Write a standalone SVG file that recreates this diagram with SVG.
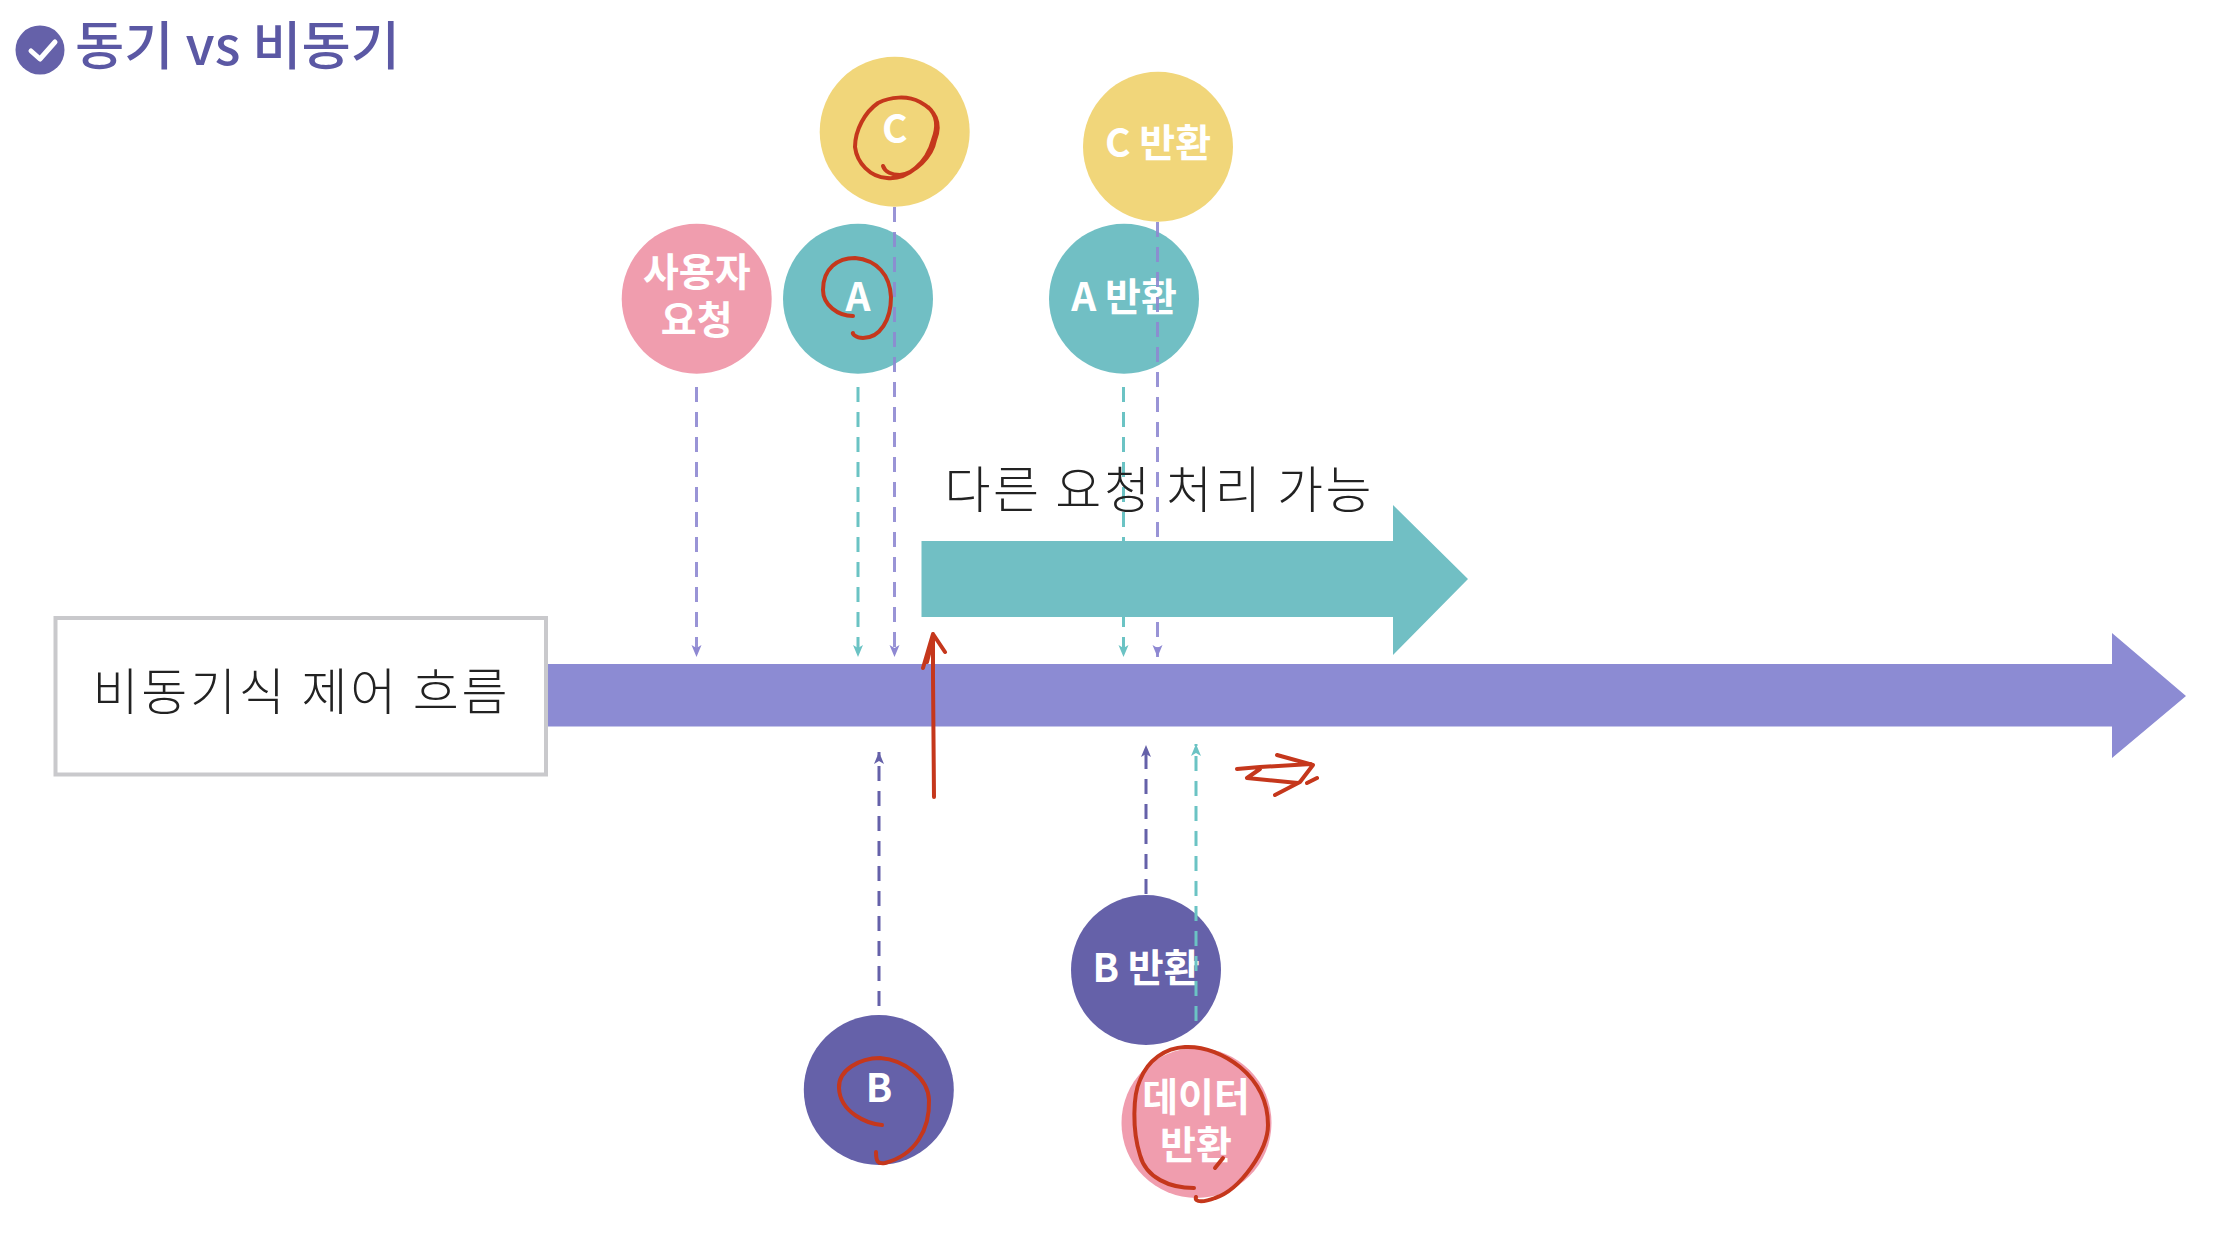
<svg xmlns="http://www.w3.org/2000/svg" width="2228" height="1240" viewBox="0 0 2228 1240">
<style>
text{font-family:"Noto Sans CJK KR","Noto Sans",sans-serif;text-anchor:middle}
.n{fill:#fff;font-size:39px;font-weight:700}
.d{fill:#222;font-size:50px;font-weight:300}
.dash{fill:none;stroke-width:3;stroke-dasharray:15 10}
.p{stroke:#8E88D2;stroke-opacity:.9}.t{stroke:#6BC3C4}.b{stroke:#6561A9}
.red{fill:none;stroke:#C5371C;stroke-width:4;stroke-linecap:round;stroke-linejoin:round}
.yel{fill:#F1D67A}.tea{fill:#71BFC4}.pin{fill:#F09DAE}.ind{fill:#6561A9}
</style>
<defs>
<marker id="mp" markerUnits="userSpaceOnUse" markerWidth="14" markerHeight="18" refX="12" refY="6" orient="auto"><path d="M0 1L12 6L0 11L3 6Z" fill="#8E88D2"/></marker>
<marker id="mt" markerUnits="userSpaceOnUse" markerWidth="14" markerHeight="18" refX="12" refY="6" orient="auto"><path d="M0 1L12 6L0 11L3 6Z" fill="#6BC3C4"/></marker>
<marker id="mb" markerUnits="userSpaceOnUse" markerWidth="14" markerHeight="18" refX="12" refY="6" orient="auto"><path d="M0 1L12 6L0 11L3 6Z" fill="#6561A9"/></marker>
</defs>
<rect width="2228" height="1240" fill="#fff"/>
<g id="title">
<circle cx="40" cy="50" r="24.500" fill="#6561A9"/>
<path d="M31 51L40 59L55 42" fill="none" stroke="#fff" stroke-width="5" stroke-linecap="round" stroke-linejoin="round"/>
<text x="237.500" y="65" font-size="52" font-weight="500" fill="#5B58A4" textLength="325" lengthAdjust="spacingAndGlyphs">동기 vs 비동기</text>
</g>
<g id="node-flow-label">
<rect x="55.500" y="618" width="490.500" height="156.500" fill="#fff" stroke="#C9C9CC" stroke-width="4"/>
<text class="d" x="300" y="710" textLength="415">비동기식 제어 흐름</text>
</g>
<g id="node-timeline"><path d="M548 664H2112V633L2186 696L2112 758V726.500H548Z" fill="#8C8BD3"/></g>
<g id="node-user-request"><circle class="pin" cx="696.700" cy="298.700" r="75"/><text class="n" x="696.700" y="286">사용자</text><text class="n" x="696.700" y="334">요청</text></g>
<g id="node-a"><circle class="tea" cx="858" cy="298.700" r="75"/><text class="n" x="858" y="311">A</text></g>
<g id="node-c"><circle class="yel" cx="894.700" cy="131.700" r="75"/><text class="n" x="894.700" y="143">C</text></g>
<g id="node-a-return"><circle class="tea" cx="1124" cy="298.700" r="75"/><text class="n" x="1124" y="311">A 반환</text></g>
<g id="node-c-return"><circle class="yel" cx="1158" cy="146.700" r="75"/><text class="n" x="1158" y="157">C 반환</text></g>
<g id="node-b"><circle class="ind" cx="878.800" cy="1090" r="75"/><text class="n" x="879" y="1102">B</text></g>
<g id="node-b-return"><circle class="ind" cx="1146" cy="970" r="75"/><text class="n" x="1146" y="982">B 반환</text></g>
<g id="node-data-return"><circle class="pin" cx="1196.500" cy="1123" r="75"/><text class="n" x="1196" y="1111">데이터</text><text class="n" x="1196" y="1159">반환</text></g>
<g id="connectors">
<path class="dash p" marker-end="url(#mp)" d="M696.500 387V657"/>
<path class="dash t" marker-end="url(#mt)" d="M858 387V657"/>
<path class="dash p" marker-end="url(#mp)" d="M894.500 207V657"/>
<path class="dash t" marker-end="url(#mt)" d="M1123.500 387V657"/>
<path class="dash p" marker-end="url(#mp)" d="M1157.500 222V657"/>
<path class="dash b" marker-end="url(#mb)" d="M879 1006V752"/>
<path class="dash b" marker-end="url(#mb)" d="M1146 894V745"/>
<path class="dash t" marker-end="url(#mt)" d="M1196 1021V744"/>
</g>
<g id="node-other-requests">
<path d="M921.500 541H1393V505L1468 579L1393 655V617H921.500Z" fill="#71BFC4"/>
<text class="d" x="1158" y="508" textLength="427">다른 요청 처리 가능</text>
</g>
<g id="annotations">
<path class="red" d="M883 166C885 172 892 175 900 175C915 173 932 157 935 140C942 123 935 110 920 102C907 95 890 97 878 103C865 112 855 130 855 147C857 163 870 177 887 178C907 180 927 163 933 140C938 127 937 115 928 107"/>
<path class="red" d="M853 316C838 316 823 305 823 290C823 268 838 258 855 258C877 260 890 275 891 297C891 320 880 338 863 338C855 338 852 333 853 333"/>
<path class="red" d="M882 1125C868 1124 840 1113 839 1088C838 1070 860 1058 880 1058C905 1060 928 1078 929 1100C930 1130 915 1155 885 1163C878 1164 876 1162 876 1152"/>
<path class="red" d="M1194 1188C1170 1188 1146 1178 1140 1155C1132 1130 1133 1095 1140 1080C1148 1060 1165 1048 1185 1047C1205 1046 1225 1055 1240 1067C1258 1082 1268 1100 1268 1125C1268 1150 1240 1190 1215 1198C1205 1202 1194 1203 1196 1197M1215 1168L1223 1158"/>
<path class="red" d="M934 797L933 677C933 660 933 645 933 634M923 668L933 634L945 652M927 662L932 642"/>
<path class="red" d="M1237 769L1260 767L1311 764M1277 755L1313 765L1300 782L1275 795M1260 769L1247 778L1298 783M1307 783L1317 778"/>
</g>
</svg>
